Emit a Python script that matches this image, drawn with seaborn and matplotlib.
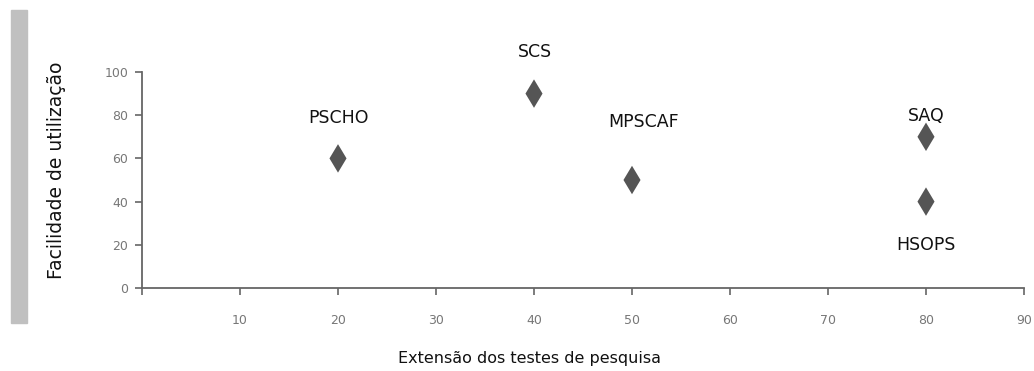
import matplotlib
matplotlib.use('Agg')
import matplotlib.pyplot as plt
import seaborn as sns
import pandas as pd
from matplotlib.patches import Rectangle

# data
tools = ['PSCHO', 'SCS', 'MPSCAF', 'SAQ', 'HSOPS']
extensao = [20, 40, 50, 80, 80]
facilidade = [60, 90, 50, 70, 40]
x_ticks = [10, 20, 30, 40, 50, 60, 70, 80, 90]
y_ticks = [0, 20, 40, 60, 80, 100]

# label offsets in points (layout only)
label_offsets = {'PSCHO': (0, 29), 'SCS': (1, 30), 'MPSCAF': (8, 42),
                 'SAQ': (0, 15), 'HSOPS': (0, -31)}

sns.set_style('white')
plt.rcParams['font.family'] = ['DejaVu Sans']

df = pd.DataFrame({'tool': tools, 'x': extensao, 'y': facilidade})

fig = plt.figure(figsize=(10.34, 3.71), dpi=100)
ax = fig.add_axes([142 / 1034, 1 - 288 / 371, (1024 - 142) / 1034, (288 - 72) / 371])

sns.scatterplot(data=df, x='x', y='y', marker='d', s=210, color='#555555',
                edgecolor='none', ax=ax, legend=False)

for t, xv, yv in zip(tools, extensao, facilidade):
    dx, dy = label_offsets[t]
    ax.annotate(t, (xv, yv), xytext=(dx, dy), textcoords='offset points',
                ha='center', va='center', fontsize=12.5, color='#111111')

ax.set_xlim(0, 90)
ax.set_ylim(0, 100)
ax.set_xticks([0] + x_ticks)
ax.set_xticklabels([''] + [str(v) for v in x_ticks])
ax.set_yticks(y_ticks)
ax.tick_params(axis='both', direction='out', length=5, width=1.2, color='#666666',
               labelcolor='#777777', labelsize=9, bottom=True, left=True)
ax.tick_params(axis='x', pad=14)
ax.tick_params(axis='y', pad=5)
sns.despine(ax=ax)
for sp in ['left', 'bottom']:
    ax.spines[sp].set_color('#666666')
    ax.spines[sp].set_linewidth(1.3)
ax.set_xlabel('')
ax.set_ylabel('')

fig.text(530 / 1034, 1 - 358 / 371, 'Extensão dos testes de pesquisa',
         ha='center', va='center', fontsize=11.5, color='#111111')
fig.text(57 / 1034, 1 - 170 / 371, 'Facilidade de utilização', rotation=90,
         ha='center', va='center', fontsize=13.5, color='#111111')

fig.patches.append(Rectangle((11 / 1034, 1 - 323 / 371), 16 / 1034, 313 / 371,
                             transform=fig.transFigure, color='#c0c0c0', zorder=0))

fig.savefig('out.png', dpi=100)
